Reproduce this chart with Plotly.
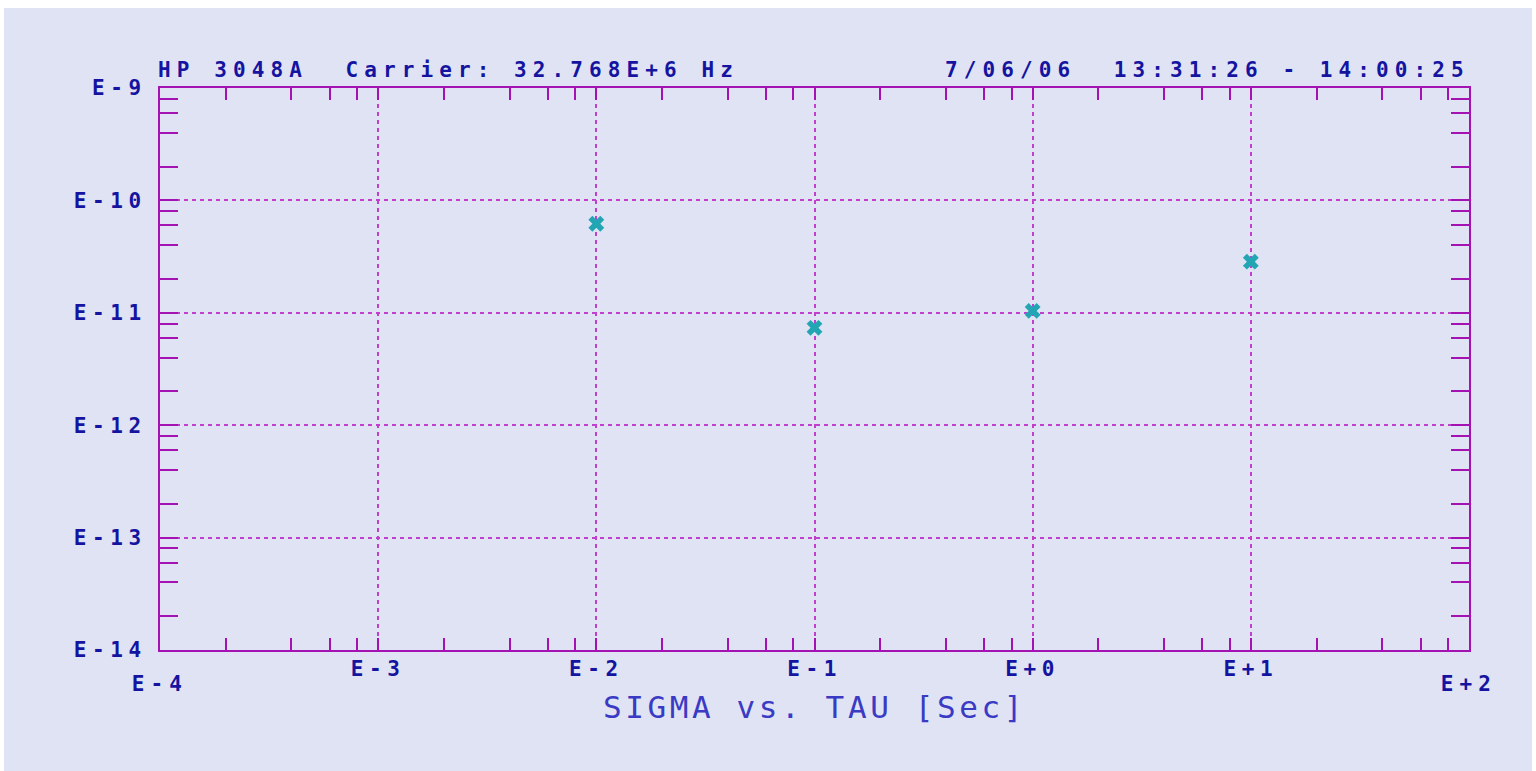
import math
import plotly.graph_objects as go

# Data
tau = [1e-2, 1e-1, 1e0, 1e1]
sigma = [6.2e-11, 7.35e-12, 1.04e-11, 2.85e-11]

x_tickvals = [1e-3, 1e-2, 1e-1, 1e0, 1e1]
x_ticktext = ["E-3", "E-2", "E-1", "E+0", "E+1"]
x_end_vals = [1e-4, 1e2]
x_end_text = ["E-4", "E+2"]
y_tickvals = [1e-14, 1e-13, 1e-12, 1e-11, 1e-10, 1e-9]
y_ticktext = ["E-14", "E-13", "E-12", "E-11", "E-10", "E-9"]
minor_mult = [2, 4, 6, 8]

header_left = "HP\u00a03048A\u00a0\u00a0Carrier:\u00a032.768E+6\u00a0Hz"
header_right = "7/06/06\u00a0\u00a013:31:26\u00a0-\u00a014:00:25"
x_title = "SIGMA\u00a0vs.\u00a0TAU\u00a0[Sec]"

x_minor = [m * 10.0 ** e for e in range(-4, 2) for m in minor_mult]
y_minor = [m * 10.0 ** e for e in range(-14, -9) for m in minor_mult]

BG = "#e0e3f3"
AXIS = "#a412b4"
GRID = "#c040cc"
LABEL = "#1414a0"
MONO = "DejaVu Sans Mono, Liberation Mono, monospace"

fig = go.Figure()
fig.add_trace(go.Scatter(
    x=tau, y=sigma, mode="markers",
    marker=dict(symbol="x", size=14, color="#22a6b4", line=dict(width=0)),
    showlegend=False, hoverinfo="x+y",
))

W, H = 1536, 771
L, R, T, B = 160, 67, 88, 121
pw, ph = W - L - R, H - T - B

def px_x(p):
    return (p - L) / pw

def px_y(p):
    return (H - B - p) / ph

fig.add_shape(type="rect", xref="paper", yref="paper", layer="below",
              x0=px_x(4), x1=px_x(1532), y0=px_y(771), y1=px_y(8),
              fillcolor=BG, line=dict(width=0))

fig.update_xaxes(
    type="log", range=[-4, 2],
    tickmode="array", tickvals=x_tickvals, ticktext=x_ticktext,
    ticks="inside", ticklen=12, tickwidth=2, tickcolor=AXIS,
    showline=True, linecolor=AXIS, linewidth=2, mirror="ticks",
    showgrid=True, gridcolor=GRID, gridwidth=2, griddash="4px,4px",
    zeroline=False,
    minor=dict(tickmode="array", tickvals=x_minor, ticks="inside", ticklen=12,
               tickwidth=2, tickcolor=AXIS, showgrid=False),
    tickfont=dict(family=MONO, size=21, color=LABEL, weight="bold"),
    ticklabelstandoff=-1,
    title=dict(text=x_title, standoff=16,
               font=dict(family=MONO, size=31, color="#3a3ac4")),
)
fig.update_yaxes(
    type="log", range=[-14, -9],
    tickmode="array", tickvals=y_tickvals, ticktext=y_ticktext,
    ticks="inside", ticklen=18, tickwidth=2, tickcolor=AXIS,
    showline=True, linecolor=AXIS, linewidth=2, mirror="ticks",
    showgrid=True, gridcolor=GRID, gridwidth=2, griddash="4px,4px",
    zeroline=False,
    minor=dict(tickmode="array", tickvals=y_minor, ticks="inside", ticklen=18,
               tickwidth=2, tickcolor=AXIS, showgrid=False),
    tickfont=dict(family=MONO, size=21, color=LABEL, weight="bold"),
    ticklabelstandoff=7,
)

for v, t in zip(x_end_vals, x_end_text):
    fig.add_annotation(x=math.log10(v), y=0, xref="x", yref="paper",
                       text=t, showarrow=False, yanchor="middle", yshift=-34,
                       font=dict(family=MONO, size=21, color=LABEL, weight="bold"))

fig.add_annotation(x=px_x(156), y=px_y(70), xref="paper", yref="paper",
                   text=header_left, showarrow=False, xanchor="left", yanchor="middle",
                   align="left",
                   font=dict(family=MONO, size=21, color=LABEL, weight="bold"))
fig.add_annotation(x=px_x(943), y=px_y(70), xref="paper", yref="paper",
                   text=header_right, showarrow=False, xanchor="left", yanchor="middle",
                   align="left",
                   font=dict(family=MONO, size=21, color=LABEL, weight="bold"))

fig.update_layout(
    width=W, height=H, autosize=False,
    margin=dict(l=L, r=R, t=T, b=B, pad=0),
    paper_bgcolor="white", plot_bgcolor=BG,
    showlegend=False,
)

post = """
document.body.style.margin='0';
document.body.style.overflow='hidden';
var gd = document.getElementById('{plot_id}');
gd.querySelectorAll('.xtick text, .ytick text').forEach(function(t){ t.style.letterSpacing='5.6px'; });
gd.querySelectorAll('.annotation-text').forEach(function(t){ t.style.letterSpacing='6.1px'; });
gd.querySelectorAll('.xtitle').forEach(function(t){ t.style.letterSpacing='3.6px'; });
"""

fig.write_html("out.html", config={"displayModeBar": False}, post_script=post)
